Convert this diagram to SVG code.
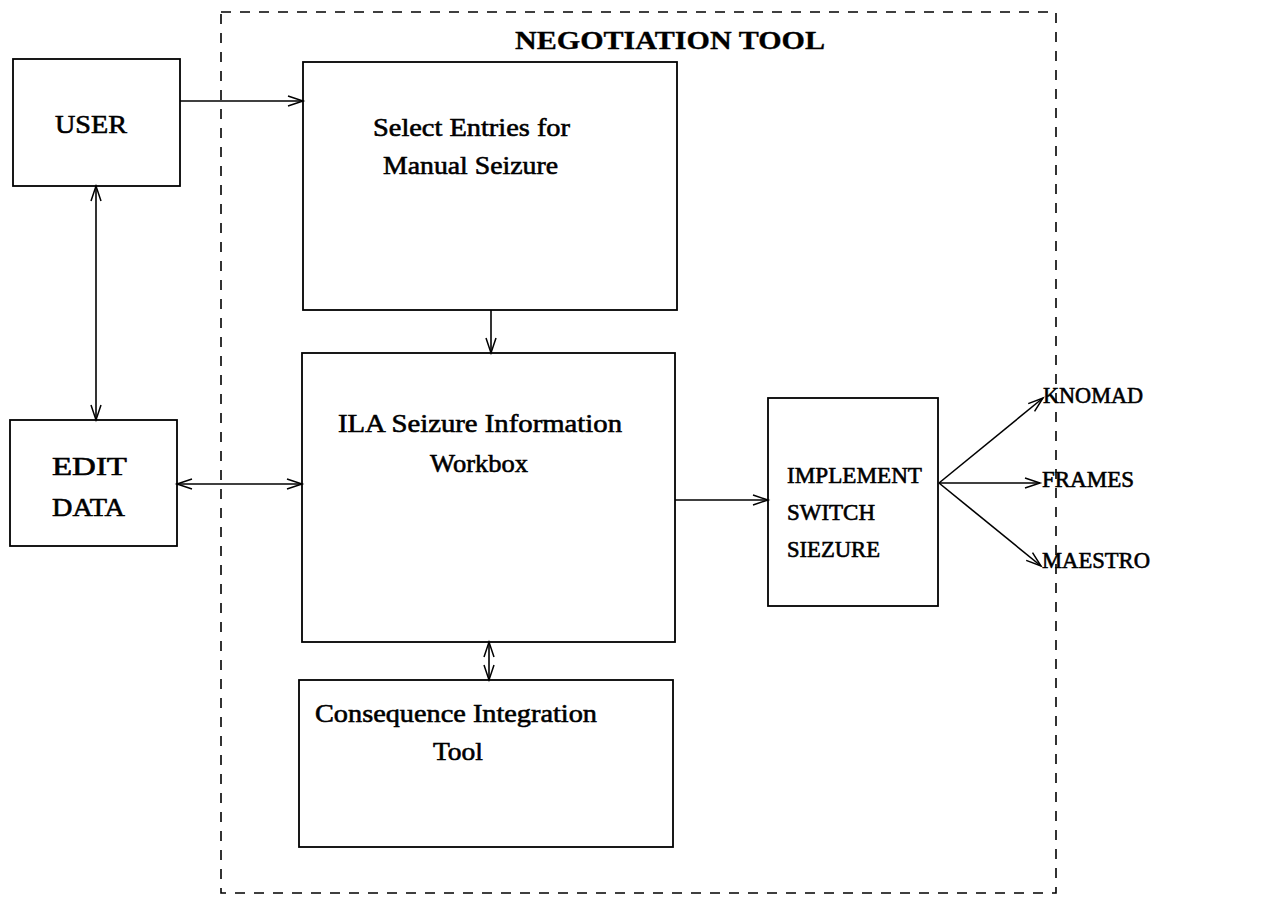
<svg xmlns="http://www.w3.org/2000/svg" width="1279" height="905" viewBox="0 0 1279 905">
  <style>
    .box { fill: none; stroke: #000; stroke-width: 1.8; }
    .frame { fill: none; stroke: #000; stroke-width: 1.6; stroke-dasharray: 10 9; }
    .wire { fill: none; stroke: #000; stroke-width: 1.6; }
    .lbl { font-family: "Liberation Serif", "Times New Roman", serif; font-size: 26px; fill: #000; stroke: #000; stroke-width: 0.6; }
    .sm { font-size: 23px; }
    .title { font-family: "Liberation Serif", "Times New Roman", serif; font-size: 25px; font-weight: bold; fill: #000; stroke: #000; stroke-width: 0.3; }
  </style>
  <defs>
    <marker id="head" markerUnits="userSpaceOnUse" markerWidth="18" markerHeight="12" refX="15" refY="5" orient="auto-start-reverse" overflow="visible">
      <path d="M0,0 L15,5 L0,10" fill="none" stroke="#000" stroke-width="1.5"/>
    </marker>
  </defs>

  <rect width="1279" height="905" fill="#fff"/>

  <!-- negotiation tool boundary -->
  <g id="negotiation-tool">
    <rect class="frame" x="221" y="12" width="835" height="881"/>
    <text class="title" x="515" y="49" textLength="310" lengthAdjust="spacingAndGlyphs">NEGOTIATION TOOL</text>
  </g>

  <g id="user">
    <rect class="box" x="13" y="59" width="167" height="127"/>
    <text class="lbl" x="55" y="133" textLength="72" lengthAdjust="spacingAndGlyphs">USER</text>
  </g>

  <g id="edit-data">
    <rect class="box" x="10" y="420" width="167" height="126"/>
    <text class="lbl" x="52" y="475" textLength="75" lengthAdjust="spacingAndGlyphs">EDIT</text>
    <text class="lbl" x="52" y="516" textLength="73" lengthAdjust="spacingAndGlyphs">DATA</text>
  </g>

  <g id="select-entries">
    <rect class="box" x="303" y="62" width="374" height="248"/>
    <text class="lbl" x="373" y="136" textLength="197" lengthAdjust="spacingAndGlyphs">Select Entries for</text>
    <text class="lbl" x="383" y="174" textLength="175" lengthAdjust="spacingAndGlyphs">Manual Seizure</text>
  </g>

  <g id="ila-workbox">
    <rect class="box" x="302" y="353" width="373" height="289"/>
    <text class="lbl" x="338" y="432" textLength="284" lengthAdjust="spacingAndGlyphs">ILA Seizure Information</text>
    <text class="lbl" x="430" y="472" textLength="98" lengthAdjust="spacingAndGlyphs">Workbox</text>
  </g>

  <g id="consequence-tool">
    <rect class="box" x="299" y="680" width="374" height="167"/>
    <text class="lbl" x="315" y="722" textLength="282" lengthAdjust="spacingAndGlyphs">Consequence Integration</text>
    <text class="lbl" x="433" y="760" textLength="50" lengthAdjust="spacingAndGlyphs">Tool</text>
  </g>

  <g id="implement-switch">
    <rect class="box" x="768" y="398" width="170" height="208"/>
    <text class="lbl sm" x="787" y="483" textLength="135" lengthAdjust="spacingAndGlyphs">IMPLEMENT</text>
    <text class="lbl sm" x="787" y="520" textLength="88" lengthAdjust="spacingAndGlyphs">SWITCH</text>
    <text class="lbl sm" x="787" y="557" textLength="93" lengthAdjust="spacingAndGlyphs">SIEZURE</text>
  </g>

  <g id="knomad">
    <text class="lbl sm" x="1043" y="403" textLength="100" lengthAdjust="spacingAndGlyphs">KNOMAD</text>
  </g>
  <g id="frames">
    <text class="lbl sm" x="1042" y="487" textLength="92" lengthAdjust="spacingAndGlyphs">FRAMES</text>
  </g>
  <g id="maestro">
    <text class="lbl sm" x="1042" y="568" textLength="108" lengthAdjust="spacingAndGlyphs">MAESTRO</text>
  </g>

  <!-- connectors -->
  <g id="connectors">
    <line class="wire" x1="180" y1="101" x2="303" y2="101" marker-end="url(#head)"/>
    <line class="wire" x1="96" y1="186" x2="96" y2="420" marker-start="url(#head)" marker-end="url(#head)"/>
    <line class="wire" x1="491" y1="310" x2="491" y2="353" marker-end="url(#head)"/>
    <line class="wire" x1="177" y1="484" x2="302" y2="484" marker-start="url(#head)" marker-end="url(#head)"/>
    <line class="wire" x1="675" y1="500" x2="768" y2="500" marker-end="url(#head)"/>
    <line class="wire" x1="489" y1="642" x2="489" y2="680" marker-start="url(#head)" marker-end="url(#head)"/>
    <line class="wire" x1="939" y1="483" x2="1043" y2="398" marker-end="url(#head)"/>
    <line class="wire" x1="939" y1="483" x2="1040" y2="483" marker-end="url(#head)"/>
    <line class="wire" x1="939" y1="483" x2="1041" y2="566" marker-end="url(#head)"/>
  </g>
</svg>
